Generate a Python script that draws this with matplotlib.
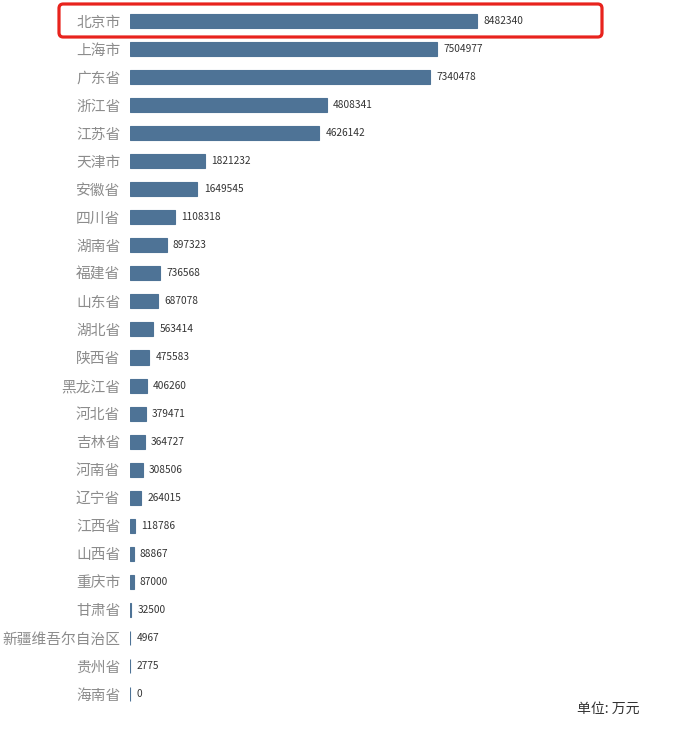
import matplotlib
matplotlib.use("Agg")
import matplotlib.pyplot as plt
from matplotlib.patches import FancyBboxPatch

plt.rcParams['font.family'] = ['Noto Sans CJK SC', 'DejaVu Sans']

# 各省份数值 (单位: 万元)
provinces = ["北京市", "上海市", "广东省", "浙江省", "江苏省", "天津市", "安徽省",
             "四川省", "湖南省", "福建省", "山东省", "湖北省", "陕西省", "黑龙江省",
             "河北省", "吉林省", "河南省", "辽宁省", "江西省", "山西省", "重庆市",
             "甘肃省", "新疆维吾尔自治区", "贵州省", "海南省"]
values = [8482340, 7504977, 7340478, 4808341, 4626142, 1821232, 1649545,
          1108318, 897323, 736568, 687078, 563414, 475583, 406260,
          379471, 364727, 308506, 264015, 118786, 88867, 87000,
          32500, 4967, 2775, 0]

bar_color = "#4e7396"

fig = plt.figure(figsize=(7, 7.35), dpi=100)
ax = fig.add_axes([130 / 700, 27 / 735, 512 / 700, 701 / 735])

ypos = list(range(len(provinces)))
ax.barh(ypos, values, height=0.5, color=bar_color, edgecolor=bar_color, linewidth=0.8)

for y, v in zip(ypos, values):
    ax.annotate(str(v), (v, y), xytext=(4.5, 0), textcoords="offset points",
                va="center", ha="left", fontsize=7.3, color="#333333")

ax.set_yticks(ypos)
ax.set_yticklabels(provinces, fontsize=10.6, color="#8c8c8c")
ax.tick_params(axis="y", length=0, pad=7)
ax.set_xticks([])
ax.set_xlim(0, 8482340 * 512 / 347)
ax.set_ylim(len(provinces) - 0.5, -0.5)
for s in ax.spines.values():
    s.set_visible(False)

# 红框高亮第一名
box = FancyBboxPatch((59 / 700, (735 - 37) / 735), 543 / 700, 33 / 735,
                     boxstyle="round,pad=0,rounding_size=0.006",
                     transform=fig.transFigure, fill=False,
                     edgecolor="#e8231d", linewidth=2.3)
fig.patches.append(box)

fig.text(608 / 700, 1 - 709 / 735, "单位: 万元", ha="center", va="center",
         fontsize=10, color="#333333")

fig.savefig("out.png", dpi=100)
